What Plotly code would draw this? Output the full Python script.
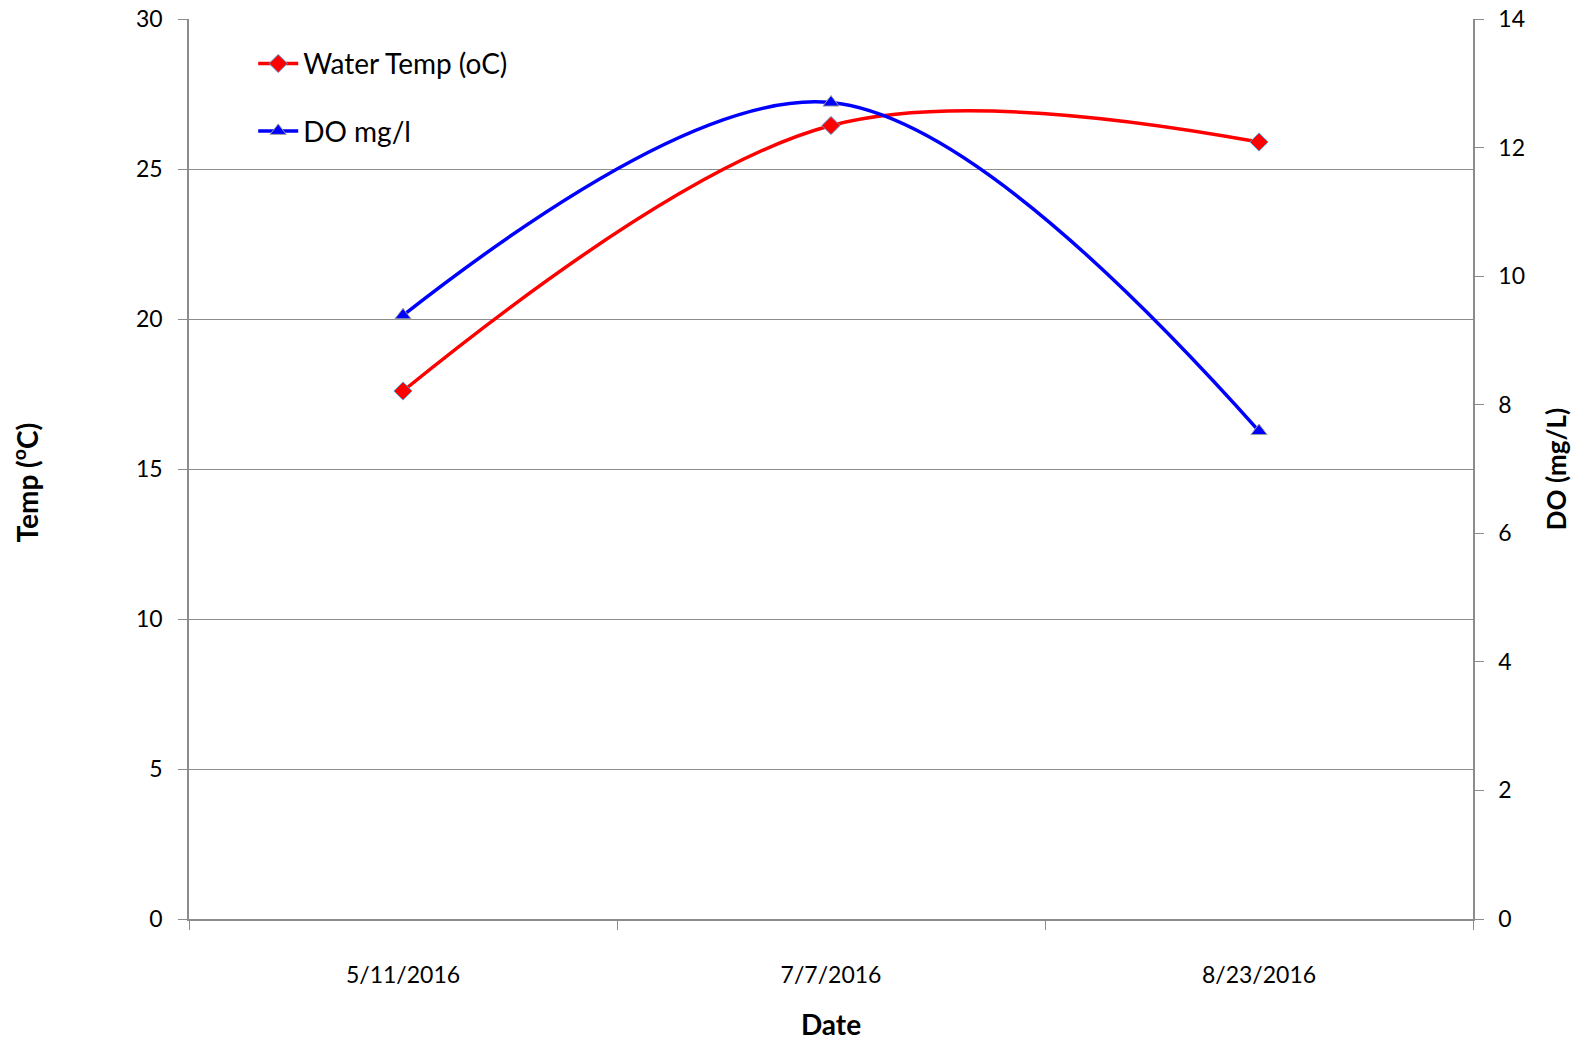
import plotly.graph_objects as go

dates = ["5/11/2016", "7/7/2016", "8/23/2016"]
water_temp = [17.6, 26.45, 25.9]
do_mgl = [9.39, 12.7, 7.59]

FONT = "Lato, Carlito, Calibri, sans-serif"
AX = "#8c8c8c"

fig = go.Figure()
fig.add_trace(go.Scatter(
    x=dates, y=water_temp, name="Water Temp (oC)", mode="lines+markers",
    line=dict(color="#ff0000", width=3.5, shape="spline", smoothing=1.0),
    marker=dict(symbol="diamond", size=14, color="#ff0000",
                line=dict(color="#5b9bd5", width=1)),
    legendgroup="a", yaxis="y"))
fig.add_trace(go.Scatter(
    x=dates, y=do_mgl, name="DO mg/l", mode="lines+markers",
    line=dict(color="#0000ff", width=3.5, shape="spline", smoothing=1.0),
    marker=dict(symbol="triangle-up", size=14, color="#0000ff",
                line=dict(color="#a0a0a0", width=1)),
    legendgroup="b", yaxis="y2"))

fig.update_layout(
    width=1577, height=1042,
    margin=dict(l=189, r=104, t=19, b=123),
    paper_bgcolor="white", plot_bgcolor="white",
    font=dict(family=FONT, size=23, color="#000000"),
    showlegend=True,
    legend=dict(x=0.05, y=0.978, xanchor="left", yanchor="top",
                bgcolor="rgba(0,0,0,0)", font=dict(size=28, color="#000"),
                tracegroupgap=28, itemwidth=40, traceorder="grouped"),
    xaxis=dict(type="category", range=[-0.5, 2.5], tickson="boundaries",
               ticks="outside", ticklen=9, tickcolor=AX, showline=True,
               linecolor=AX, linewidth=1.5, showgrid=False, zeroline=False,
               ticklabelstandoff=35, automargin=False,
               title=dict(text="<b>Date</b>", font=dict(size=28), standoff=28)),
    yaxis=dict(range=[0, 30], dtick=5, ticks="outside", ticklen=9,
               tickcolor=AX, showline=True, linecolor=AX, linewidth=1.5,
               showgrid=True, gridcolor=AX, gridwidth=1.2, zeroline=False,
               ticklabelstandoff=11, automargin=False),
    yaxis2=dict(range=[0, 14], dtick=2, overlaying="y", side="right",
                ticks="outside", ticklen=9, tickcolor=AX, showline=True,
                linecolor=AX, linewidth=1.5, showgrid=False, zeroline=False,
                ticklabelstandoff=10, automargin=False,
                title=dict(text="<b>DO (mg/L)</b>", font=dict(size=26), standoff=24)),
    annotations=[dict(text="<b>Temp (<sup>o</sup>C)</b>", textangle=-90,
                      xref="paper", yref="paper", x=-0.127, y=0.485,
                      xanchor="center", yanchor="middle", showarrow=False,
                      font=dict(size=28))],
)

fig.write_html("out.html")
